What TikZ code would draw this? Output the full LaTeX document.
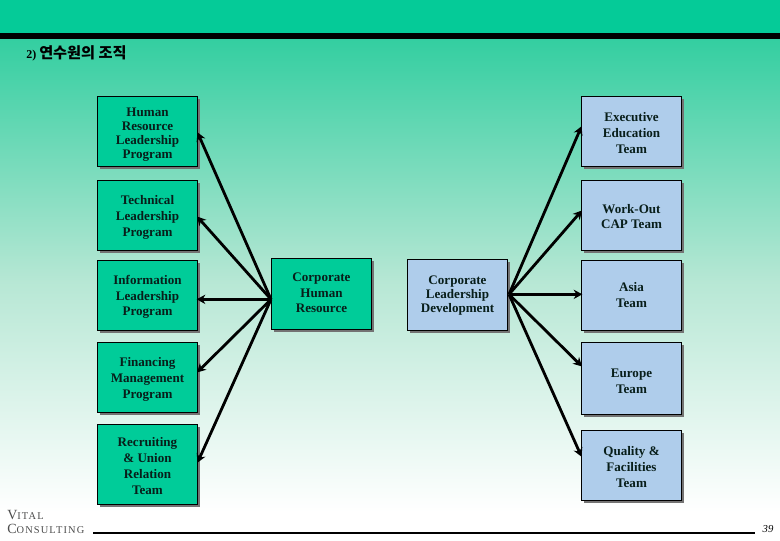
\documentclass[tikz,border=0pt]{standalone}
\usepackage{fontspec}
\setmainfont{Liberation Serif}
\newfontfamily\cjkf{Noto Sans CJK KR}
\usetikzlibrary{arrows.meta,shadows,calc}
\definecolor{topgreen}{RGB}{5,203,152}
\definecolor{bandA}{RGB}{50,206,160}
\definecolor{bandB}{RGB}{182,231,212}
\definecolor{boxgreen}{RGB}{0,204,153}
\definecolor{boxblue}{RGB}{175,205,235}
\definecolor{inkdark}{RGB}{8,30,26}
\newcommand{\dn}[1]{\rule{0pt}{#1pt}}
\newcommand{\upb}[1]{\rule[-#1pt]{0pt}{0pt}}
\tikzset{
  x=0.75pt,y=-0.75pt,
  lsp/.style={font=\bfseries\fontsize{9.8}{#1}\selectfont},
  basebox/.style={draw=black,line width=0.75pt,minimum width=75pt,align=center,anchor=north west,
    inner sep=0pt,text=inkdark,
    drop shadow={shadow xshift=2pt,shadow yshift=-2pt,fill=black!55,opacity=1}},
  gbox/.style={basebox,fill=boxgreen},
  bbox/.style={basebox,fill=boxblue},
  conn/.style={line width=2.1pt,black,-{Stealth[length=6.5pt,width=7pt]},shorten >=-1pt},
}
\begin{document}
\begin{tikzpicture}
\useasboundingbox (0,0) rectangle (780,540);
\fill[white] (0,0) rectangle (780,540);
\fill[topgreen] (0,0) rectangle (780,34);
\shade[top color=bandB,bottom color=white] (0,279) rectangle (780,512);
\shade[top color=bandA,bottom color=bandB] (0,36) rectangle (780,280);
\fill[black] (0,33) rectangle (780,39);
\node[anchor=west,font=\bfseries\fontsize{9}{10}\selectfont,text=black,inner sep=0pt] (title) at (26,53) {2) {\cjkf\fontsize{11.4}{12}\selectfont 연수원의 조직}};

\node[gbox,lsp=10.5,minimum height=52.5pt] (l1) at (97,96) {\dn{11}Human\\Resource\\Leadership\\Program};
\node[gbox,lsp=12,minimum height=52.5pt] (l2) at (97,180) {\dn{9.5}Technical\\Leadership\\Program};
\node[gbox,lsp=11.8,minimum height=52.5pt] (l3) at (97,260) {\dn{9}Information\\Leadership\\Program};
\node[gbox,lsp=12,minimum height=52.5pt] (l4) at (97,342) {\dn{9.5}Financing\\Management\\Program};
\node[gbox,lsp=12,minimum height=60pt] (l5) at (97,424) {\dn{9.5}Recruiting\\\&\ Union\\Relation\\Team};
\node[gbox,lsp=11.4,minimum height=53pt] (cl) at (271,258) {Corporate\\Human\\Resource\upb{1.5}};
\node[bbox,lsp=10.5,minimum height=53pt] (cr) at (407,259) {\dn{8}Corporate\\Leadership\\Development};
\node[bbox,lsp=12,minimum height=52.5pt] (r1) at (581,96) {\dn{8.5}Executive\\Education\\Team};
\node[bbox,lsp=11.4,minimum height=52.5pt] (r2) at (581,180) {\dn{8.5}Work-Out\\CAP Team};
\node[bbox,lsp=12,minimum height=52.5pt] (r3) at (581,260) {Asia\\Team\upb{1.5}};
\node[bbox,lsp=12,minimum height=54pt] (r4) at (581,342) {\dn{10}Europe\\Team};
\node[bbox,lsp=12,minimum height=52.5pt] (r5) at (581,430) {\dn{8.5}Quality \&\\Facilities\\Team};

\coordinate (hl) at ($(cl.west)+(0,5.5)$);
\coordinate (hr) at ($(cr.east)+(1,-0.5)$);
\draw[conn] (hl) -- ($(l1.east)+(0,2)$);
\draw[conn] (hl) -- ($(l2.east)+(0,2)$);
\draw[conn] (hl) -- (l3.east |- hl);
\draw[conn] (hl) -- ($(l4.east)+(0,-6)$);
\draw[conn] (hl) -- ($(l5.east)+(0,-3)$);
\draw[conn] (hr) -- ($(r1.west)+(0,-4)$);
\draw[conn] (hr) -- ($(r2.west)+(0,-4)$);
\draw[conn] (hr) -- (r3.west |- hr);
\draw[conn] (hr) -- ($(r4.west)+(0,-13)$);
\draw[conn] (hr) -- ($(r5.west)+(0,-10)$);

\node[anchor=west,inner sep=0pt,text=black!70,align=left,font=\fontsize{7.8}{11.2}\selectfont\addfontfeature{LetterSpace=11}] (logo) at (7,522) {{\fontsize{10.5}{11.2}\selectfont V}ITAL\\{\fontsize{10.5}{11.2}\selectfont C}ONSULTING};
\coordinate (rs) at (93,533);
\coordinate (re) at (755,533);
\draw[black,line width=0.8pt] (rs) -- (re);
\node[font=\itshape\fontsize{8}{9}\selectfont,inner sep=0pt] (pg) at (768,529) {39};
\end{tikzpicture}
\end{document}
